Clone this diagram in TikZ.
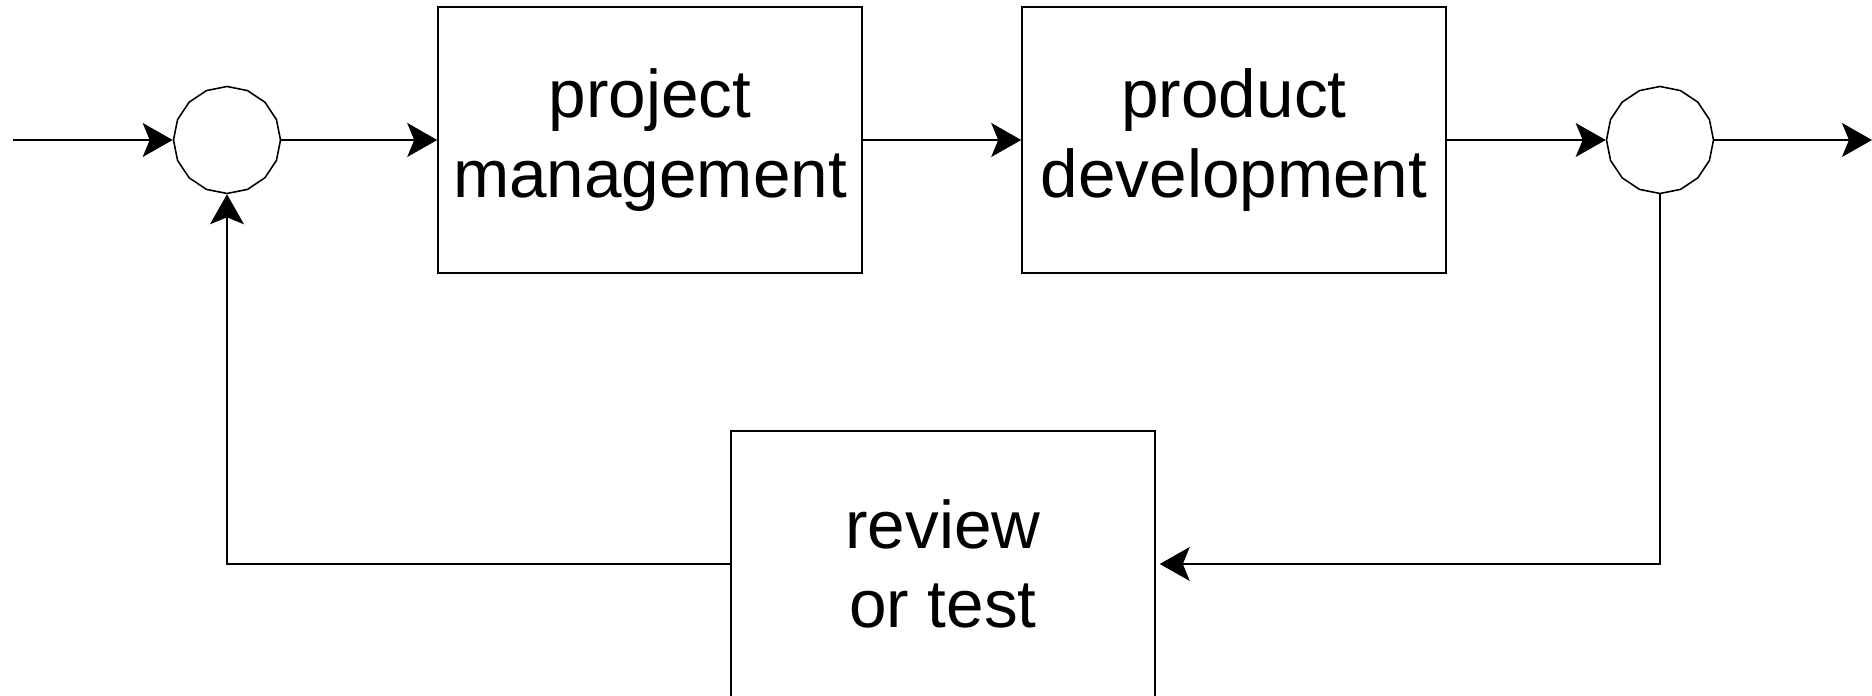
\documentclass[tikz,border=0pt]{standalone}
\usepackage{fontspec}
\setmainfont{Liberation Sans}
\usetikzlibrary{arrows.meta,shapes.geometric}
\begin{document}
\begin{tikzpicture}[line width=0.45pt, >={Stealth[length=3mm, width=3.4mm, inset=0.7mm]},
  block/.style={draw, rectangle, minimum width=4.24cm, minimum height=2.66cm, align=center, font=\fontsize{19.2}{22.7}\selectfont},
  sum/.style={draw, regular polygon, regular polygon sides=16, shape border rotate=11.25, minimum size=1.07cm, inner sep=0pt}]
 \useasboundingbox (0,0) rectangle (18.72,6.96);
 \coordinate (in) at (0.13,5.56);
 \coordinate (out) at (18.72,5.56);
 \node[sum] (c1) at (2.27,5.56) {};
 \node[block] (pm) at (6.50,5.56) {project\\management};
 \node[block] (pd) at (12.34,5.56) {product\\development};
 \node[sum] (c2) at (16.60,5.56) {};
 \node[block] (rt) at (9.43,1.32) {review\\or test};
 \draw[->] (in) -- (c1);
 \draw[->] (c1) -- (pm);
 \draw[->] (pm) -- (pd);
 \draw[->] (pd) -- (c2);
 \draw[->] (c2) -- (out);
 \draw[->, shorten >=0.04cm] (c2.south) |- (rt.east);
 \draw[->] (rt.west) -| (c1.south);
\end{tikzpicture}
\end{document}
